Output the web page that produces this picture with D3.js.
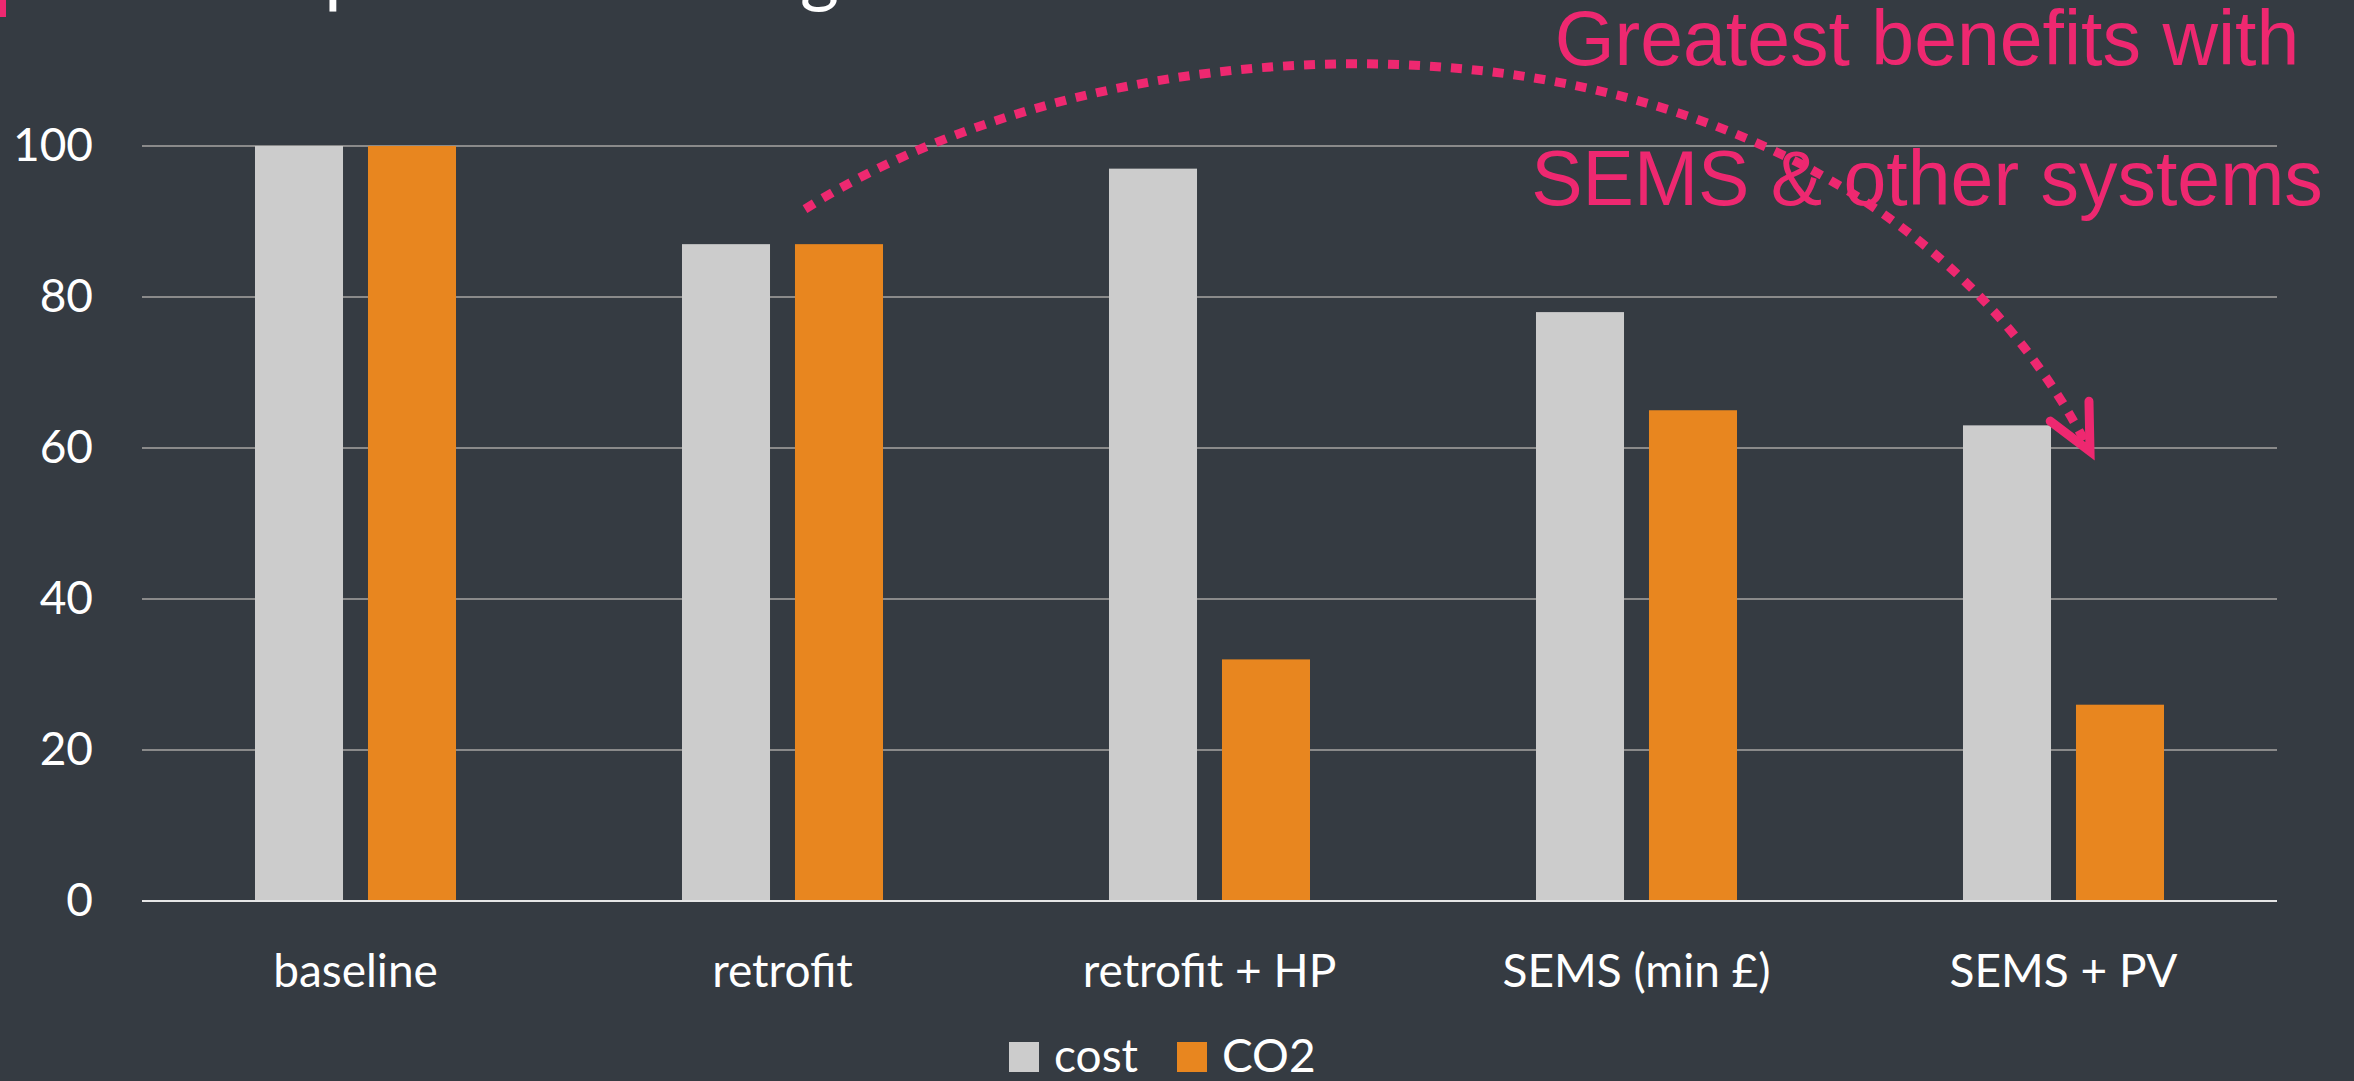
<!DOCTYPE html>
<html>

<head>
  <title>Relative performance against baseline</title>
  <meta charset="utf-8" />
  <script src="https://d3js.org/d3.v7.min.js"></script>
  <style>
    body { margin: 0; background: #353b42; }
    text { font-family: Lato, "Open Sans", sans-serif; }
    .pink { font-family: "Liberation Sans", Arial, sans-serif; }
  </style>
</head>

<body>
  <svg id="chart" width="2354" height="1081"></svg>

  <script>
    // data
    const categories = ["baseline", "retrofit", "retrofit + HP", "SEMS (min £)", "SEMS + PV"];
    const seriesNames = ["cost", "CO2"];
    const costValues = [100, 87, 97, 78, 63];
    const co2Values = [100, 87, 32, 65, 26];
    const yTicks = [0, 20, 40, 60, 80, 100];
    const titleText = "Relative performance against baseline";
    const noteLines = ["Greatest benefits with", "SEMS & other systems"];

    const svg = d3.select("#chart");
    const width = +svg.attr("width");
    const height = +svg.attr("height");
    const margin = { top: 146, right: 77, bottom: 180, left: 142 };

    const pink = "#ee2870";
    const color = d3.scaleOrdinal().domain(seriesNames).range(["#cccccc", "#e8861f"]);

    svg.append("rect").attr("width", width).attr("height", height).attr("fill", "#353b42");

    // slide title, mostly cut off at the top edge
    svg.append("rect").attr("x", 0).attr("y", 0).attr("width", 6).attr("height", 17).attr("fill", pink);
    svg.append("text")
      .attr("x", 43).attr("y", -2)
      .attr("fill", "white")
      .style("font-size", "75px")
      .text(titleText);

    const rows = categories.map((c, i) => ({ cat: c, cost: costValues[i], CO2: co2Values[i] }));

    const x0 = d3.scaleBand().domain(categories).range([margin.left, width - margin.right]).padding(0);
    const x1 = d3.scaleBand().domain(seriesNames).range([0, x0.bandwidth()])
      .paddingInner(0.221).paddingOuter(1.0);
    const y = d3.scaleLinear().domain([0, 100]).range([height - margin.bottom, margin.top]);

    // gridlines
    svg.append("g")
      .selectAll("line")
      .data(yTicks.filter(d => d > 0))
      .join("line")
      .attr("x1", margin.left).attr("x2", width - margin.right)
      .attr("y1", d => y(d)).attr("y2", d => y(d))
      .attr("stroke", "#8a8a8a").attr("stroke-width", 2);

    // y tick labels
    const yAxis = svg.append("g")
      .attr("transform", "translate(" + (margin.left - 49) + ",0)")
      .call(d3.axisLeft(y).tickValues(yTicks).tickSize(0).tickPadding(0));
    yAxis.select(".domain").remove();
    yAxis.selectAll("text")
      .attr("fill", "white")
      .style("font-size", "46px")
      .style("font-family", "Lato, sans-serif");

    // bars
    svg.append("g")
      .selectAll("g")
      .data(rows)
      .join("g")
      .attr("transform", d => "translate(" + x0(d.cat) + ",0)")
      .selectAll("rect")
      .data(d => seriesNames.map(k => ({ key: k, value: d[k] })))
      .join("rect")
      .attr("x", d => x1(d.key))
      .attr("width", x1.bandwidth())
      .attr("y", d => y(d.value))
      .attr("height", d => y(0) - y(d.value))
      .attr("fill", d => color(d.key));

    // baseline
    svg.append("line")
      .attr("x1", margin.left).attr("x2", width - margin.right)
      .attr("y1", y(0)).attr("y2", y(0))
      .attr("stroke", "#e6e6e6").attr("stroke-width", 2);

    // category labels
    const xAxis = svg.append("g")
      .attr("transform", "translate(0," + y(0) + ")")
      .call(d3.axisBottom(x0).tickSize(0).tickPadding(0));
    xAxis.select(".domain").remove();
    xAxis.selectAll("text")
      .attr("fill", "white")
      .attr("dy", 0)
      .attr("y", 86)
      .style("font-size", "46px")
      .style("font-family", "Lato, sans-serif");

    // legend
    const legendX = [1009, 1177];
    const legend = svg.append("g")
      .selectAll("g")
      .data(seriesNames)
      .join("g")
      .attr("transform", (d, i) => "translate(" + legendX[i] + ",1042)");
    legend.append("rect").attr("width", 30).attr("height", 30).attr("fill", d => color(d));
    legend.append("text")
      .attr("x", 45).attr("y", 30)
      .attr("fill", "white")
      .style("font-size", "46px")
      .text(d => d);

    // annotation
    svg.append("g")
      .selectAll("text")
      .data(noteLines)
      .join("text")
      .attr("class", "pink")
      .attr("x", 1927)
      .attr("y", (d, i) => 65 + i * 140)
      .attr("text-anchor", "middle")
      .attr("fill", pink)
      .style("font-size", "77px")
      .text(d => d);

    // dotted arrow from retrofit CO2 to SEMS + PV
    const p0 = [x0("retrofit") + x1("CO2") + 10, y(87) - 35];
    const p3 = [x0("SEMS + PV") + x1("cost") + x1.bandwidth() + 39, y(63) + 26];
    const c1 = [1150, -10];
    const c2 = [1850, -20];
    const arrowPath = d3.path();
    arrowPath.moveTo(p0[0], p0[1]);
    arrowPath.bezierCurveTo(c1[0], c1[1], c2[0], c2[1], p3[0], p3[1]);

    svg.append("path")
      .attr("d", arrowPath.toString())
      .attr("fill", "none")
      .attr("stroke", pink)
      .attr("stroke-width", 9)
      .attr("stroke-dasharray", "11 10");

    // open arrow head
    const ang = Math.atan2(p3[1] - c2[1], p3[0] - c2[0]);
    const armLen = 50, spread = 0.45;
    const head = d3.path();
    head.moveTo(p3[0] - armLen * Math.cos(ang - spread), p3[1] - armLen * Math.sin(ang - spread));
    head.lineTo(p3[0], p3[1]);
    head.lineTo(p3[0] - armLen * Math.cos(ang + spread), p3[1] - armLen * Math.sin(ang + spread));
    svg.append("path")
      .attr("d", head.toString())
      .attr("fill", "none")
      .attr("stroke", pink)
      .attr("stroke-width", 9)
      .attr("stroke-linecap", "round")
      .attr("stroke-linejoin", "miter");
  </script>
</body>

</html>
